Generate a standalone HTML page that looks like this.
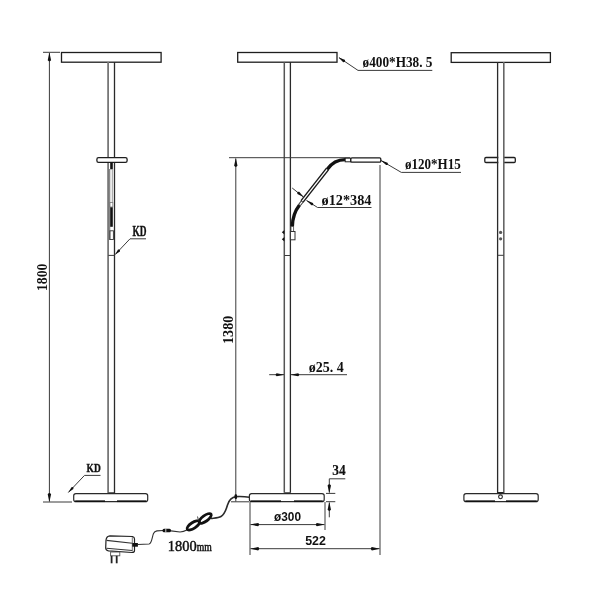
<!DOCTYPE html>
<html><head><meta charset="utf-8"><style>
html,body{margin:0;padding:0;background:#fff;width:600px;height:600px;overflow:hidden}
svg{display:block;will-change:transform}
.t{font-family:"Liberation Serif",serif;font-weight:bold;fill:#111}
.s{font-family:"Liberation Sans",sans-serif;font-weight:bold;fill:#111}
</style></head><body>
<svg width="600" height="600" viewBox="0 0 600 600">
<rect x="61.5" y="52.5" width="99.6" height="9.7" fill="#fff" stroke="#1e1e1e" stroke-width="1.3"/>
<line x1="108.1" y1="62" x2="108.1" y2="493.5" stroke="#777" stroke-width="1.8"/>
<line x1="114.5" y1="62" x2="114.5" y2="493.5" stroke="#2a2a2a" stroke-width="1.3"/>
<rect x="96.9" y="157.7" width="30.2" height="4.7" rx="1.6" fill="#fff" stroke="#1e1e1e" stroke-width="1.3"/>
<rect x="110.2" y="162.3" width="2.6" height="7" fill="#111"/>
<line x1="109.6" y1="169" x2="109.6" y2="240" stroke="#888" stroke-width="1.4"/>
<line x1="112.3" y1="169" x2="112.3" y2="202" stroke="#999" stroke-width="1.0"/>
<rect x="109.8" y="202.5" width="3" height="4.5" fill="none" stroke="#777" stroke-width="0.8"/>
<rect x="110.2" y="207.3" width="2.6" height="19.5" fill="#111"/>
<rect x="109.9" y="230.8" width="3.5" height="8.7" fill="none" stroke="#333" stroke-width="0.9"/>
<line x1="108.3" y1="255.4" x2="114.4" y2="255.4" stroke="#3a3a3a" stroke-width="1.0"/>
<polyline points="115,254.7 130,238.8 146,238.8" fill="none" stroke="#3a3a3a" stroke-width="1.0"/>
<path d="M115.20,254.50 L118.03,249.61 Q120.48,248.90 119.92,251.39 Z" fill="#111"/>
<text class="t" x="132.4" y="235.6" font-size="14.5" textLength="14" lengthAdjust="spacingAndGlyphs" stroke="#111" stroke-width="0.4">KD</text>
<rect x="73.7" y="493.6" width="73.99999999999999" height="8.0" rx="2.2" fill="#fff" stroke="#2a2a2a" stroke-width="1.2"/>
<line x1="75.2" y1="501.20000000000005" x2="105" y2="501.20000000000005" stroke="#111" stroke-width="1.7"/>
<line x1="117" y1="501.20000000000005" x2="146.2" y2="501.20000000000005" stroke="#111" stroke-width="1.7"/>
<line x1="108.5" y1="492.9" x2="114.3" y2="492.9" stroke="#222" stroke-width="1.2"/>
<line x1="43" y1="52.3" x2="60" y2="52.3" stroke="#3a3a3a" stroke-width="1.0"/>
<line x1="43" y1="502" x2="72" y2="502" stroke="#3a3a3a" stroke-width="1.0"/>
<line x1="49.4" y1="53" x2="49.4" y2="501.5" stroke="#3a3a3a" stroke-width="1.0"/>
<path d="M49.40,52.50 L51.10,60.30 Q49.40,62.50 47.70,60.30 Z" fill="#111"/>
<path d="M49.40,502.00 L47.70,494.20 Q49.40,492.00 51.10,494.20 Z" fill="#111"/>
<text class="t" transform="translate(47.3,291) rotate(-90)" font-size="14.5" textLength="27.5" lengthAdjust="spacingAndGlyphs" >1800</text>
<polyline points="68.3,492.5 84.5,475.4 100.5,475.4" fill="none" stroke="#3a3a3a" stroke-width="1.0"/>
<path d="M68.30,492.50 L71.48,487.25 Q73.94,486.55 73.37,489.04 Z" fill="#111"/>
<text class="t" x="86.6" y="472.4" font-size="13.5" textLength="14.2" lengthAdjust="spacingAndGlyphs" stroke="#111" stroke-width="0.4">KD</text>
<rect x="237.7" y="52.5" width="99.3" height="9.7" fill="#fff" stroke="#1e1e1e" stroke-width="1.3"/>
<line x1="284.3" y1="62" x2="284.3" y2="492.8" stroke="#555" stroke-width="1.5"/>
<line x1="290.4" y1="62" x2="290.4" y2="492.8" stroke="#2a2a2a" stroke-width="1.3"/>
<polyline points="339,57.6 358,70.4 432.3,70.4" fill="none" stroke="#3a3a3a" stroke-width="1.0"/>
<path d="M338.60,57.40 L344.78,59.86 Q345.83,62.24 343.22,62.18 Z" fill="#111"/>
<text class="t" x="362.5" y="67" font-size="14" textLength="70" lengthAdjust="spacingAndGlyphs" >ø400*H38. 5</text>
<line x1="229" y1="157.7" x2="350" y2="157.7" stroke="#3a3a3a" stroke-width="1.0"/>
<line x1="235.8" y1="158.5" x2="235.8" y2="501.5" stroke="#3a3a3a" stroke-width="1.0"/>
<path d="M235.80,158.00 L237.50,165.80 Q235.80,168.00 234.10,165.80 Z" fill="#111"/>
<text class="t" transform="translate(232.8,344) rotate(-90)" font-size="14.5" textLength="28.3" lengthAdjust="spacingAndGlyphs" >1380</text>
<path d="M292.3,226.8 Q292.5,214 299.5,205" fill="none" stroke="#111" stroke-width="3.4"/>
<path d="M299.5,205 L302.2,201.5" fill="none" stroke="#333" stroke-width="3"/>
<path d="M299.8,204.6 L302,201.8" fill="none" stroke="#fff" stroke-width="1.2"/>
<path d="M302,201.5 L327.5,169" fill="none" stroke="#1a1a1a" stroke-width="3.9"/>
<path d="M302.3,201.1 L327.2,169.4" fill="none" stroke="#fff" stroke-width="1.3"/>
<path d="M327.3,169.3 Q334,159.6 345.3,159.6" fill="none" stroke="#111" stroke-width="3.4"/>
<rect x="345.2" y="158.2" width="5.5" height="3.6" fill="#fff" stroke="#222" stroke-width="1"/>
<rect x="350.8" y="157.8" width="30" height="4.4" rx="1.2" fill="#fff" stroke="#1a1a1a" stroke-width="1.3"/>
<rect x="291" y="226.5" width="2.6" height="5" fill="#fff" stroke="#555" stroke-width="0.9"/>
<rect x="290.4" y="231.5" width="4.6" height="8.3" fill="#fff" stroke="#333" stroke-width="1"/>
<path d="M281.8,232.3 L284.4,229.9 L284.4,234.5 Z" fill="#111"/>
<path d="M281.8,239.3 L284.4,236.9 L284.4,241.5 Z" fill="#111"/>
<line x1="284.4" y1="255.5" x2="290.4" y2="255.5" stroke="#3a3a3a" stroke-width="1.0"/>
<line x1="292.2" y1="188" x2="303.5" y2="197" stroke="#3a3a3a" stroke-width="1.0"/>
<path d="M303.80,197.30 L297.46,194.01 Q296.62,191.55 299.21,191.83 Z" fill="#111"/>
<polyline points="306.5,200.5 317.6,207.5 371.5,207.5" fill="none" stroke="#3a3a3a" stroke-width="1.0"/>
<path d="M306.30,200.30 L312.96,202.88 Q314.06,205.24 311.45,205.24 Z" fill="#111"/>
<text class="t" x="321.5" y="205" font-size="14" textLength="50" lengthAdjust="spacingAndGlyphs" >ø12*384</text>
<polyline points="381,160.5 401.3,172.4 461,172.4" fill="none" stroke="#3a3a3a" stroke-width="1.0"/>
<path d="M380.80,160.30 L387.54,162.65 Q388.72,164.98 386.12,165.06 Z" fill="#111"/>
<text class="t" x="405" y="169.3" font-size="14" textLength="55.7" lengthAdjust="spacingAndGlyphs" >ø120*H15</text>
<line x1="380" y1="165" x2="380" y2="555" stroke="#3a3a3a" stroke-width="1.0"/>
<line x1="269.2" y1="374.7" x2="284" y2="374.7" stroke="#3a3a3a" stroke-width="1.0"/>
<path d="M284.20,374.70 L276.70,376.20 Q274.50,374.70 276.70,373.20 Z" fill="#111"/>
<line x1="291" y1="374.7" x2="347" y2="374.7" stroke="#3a3a3a" stroke-width="1.0"/>
<path d="M290.60,374.70 L298.10,373.20 Q300.30,374.70 298.10,376.20 Z" fill="#111"/>
<text class="t" x="308.7" y="371.7" font-size="14" textLength="35" lengthAdjust="spacingAndGlyphs" >ø25. 4</text>
<rect x="249.4" y="493.6" width="74.79999999999998" height="8.0" rx="2.2" fill="#fff" stroke="#2a2a2a" stroke-width="1.2"/>
<line x1="250.9" y1="501.20000000000005" x2="281" y2="501.20000000000005" stroke="#111" stroke-width="1.7"/>
<line x1="294" y1="501.20000000000005" x2="322.7" y2="501.20000000000005" stroke="#111" stroke-width="1.7"/>
<line x1="284.5" y1="492.9" x2="290.3" y2="492.9" stroke="#222" stroke-width="1.2"/>
<line x1="231" y1="501.8" x2="249" y2="501.8" stroke="#3a3a3a" stroke-width="1.0"/>
<line x1="326" y1="493.4" x2="335.3" y2="493.4" stroke="#3a3a3a" stroke-width="1.0"/>
<line x1="326" y1="501.7" x2="335.3" y2="501.7" stroke="#3a3a3a" stroke-width="1.0"/>
<polyline points="345.3,478.8 329.3,478.8 329.3,492.5" fill="none" stroke="#3a3a3a" stroke-width="1.0"/>
<path d="M329.30,493.20 L327.60,485.40 Q329.30,483.20 331.00,485.40 Z" fill="#111"/>
<line x1="329.3" y1="502.5" x2="329.3" y2="517.3" stroke="#3a3a3a" stroke-width="1.0"/>
<path d="M329.30,502.00 L331.00,509.80 Q329.30,512.00 327.60,509.80 Z" fill="#111"/>
<text class="t" x="332.3" y="475.2" font-size="14.2" textLength="13.4" lengthAdjust="spacingAndGlyphs" stroke="#111" stroke-width="0.15">34</text>
<line x1="250" y1="502" x2="250" y2="555" stroke="#3a3a3a" stroke-width="1.0"/>
<line x1="325" y1="502" x2="325" y2="530" stroke="#3a3a3a" stroke-width="1.0"/>
<line x1="250.5" y1="524.6" x2="324.5" y2="524.6" stroke="#3a3a3a" stroke-width="1.0"/>
<path d="M250.30,524.60 L258.10,522.90 Q260.30,524.60 258.10,526.30 Z" fill="#111"/>
<path d="M324.70,524.60 L316.90,526.30 Q314.70,524.60 316.90,522.90 Z" fill="#111"/>
<text class="s" x="274" y="521.3" font-size="12.5" textLength="27" lengthAdjust="spacingAndGlyphs" >ø300</text>
<line x1="250.5" y1="548.7" x2="379.5" y2="548.7" stroke="#3a3a3a" stroke-width="1.0"/>
<path d="M250.30,548.70 L258.10,547.00 Q260.30,548.70 258.10,550.40 Z" fill="#111"/>
<path d="M379.70,548.70 L371.90,550.40 Q369.70,548.70 371.90,547.00 Z" fill="#111"/>
<text class="s" x="305.2" y="545.3" font-size="13" textLength="20.7" lengthAdjust="spacingAndGlyphs" >522</text>
<path d="M249.5,497.3 Q243,496.2 236,496.6 C231,497.3 229,500 227.5,505 C226,510 225,514 221,516.5 C218.5,518 215,518 211,518.5" fill="none" stroke="#2a2a2a" stroke-width="1.6"/>
<rect x="234.6" y="494.3" width="2.4" height="4.8" rx="1" fill="#111"/>
<rect x="451.2" y="52.7" width="99.2" height="9.7" fill="#fff" stroke="#1e1e1e" stroke-width="1.3"/>
<rect x="484.8" y="157.5" width="30.5" height="5" rx="1.2" fill="#fff" stroke="#1e1e1e" stroke-width="1.3"/>
<rect x="498.3" y="156" width="4.8" height="8" fill="#fff"/>
<line x1="497.6" y1="62" x2="497.6" y2="493" stroke="#2a2a2a" stroke-width="1.3"/>
<line x1="503.8" y1="62" x2="503.8" y2="493" stroke="#666" stroke-width="1.6"/>
<circle cx="500.6" cy="232.4" r="1.6" fill="#555"/>
<circle cx="500.6" cy="238.8" r="1.6" fill="#555"/>
<line x1="497.6" y1="255.3" x2="503.7" y2="255.3" stroke="#3a3a3a" stroke-width="1.0"/>
<rect x="463.9" y="493.6" width="74.30000000000007" height="8.0" rx="2.2" fill="#fff" stroke="#2a2a2a" stroke-width="1.2"/>
<line x1="465.4" y1="501.20000000000005" x2="495" y2="501.20000000000005" stroke="#111" stroke-width="1.7"/>
<line x1="506" y1="501.20000000000005" x2="536.7" y2="501.20000000000005" stroke="#111" stroke-width="1.7"/>
<line x1="497.8" y1="492.6" x2="503.6" y2="492.6" stroke="#222" stroke-width="1.2"/>
<circle cx="500.5" cy="496.8" r="1.9" fill="none" stroke="#222" stroke-width="1.1"/>
<path d="M106,540 Q106.5,536 110,535.8 L132.5,536.5 Q134.5,537 134.5,539 L134.5,550.5 Q134.5,552.5 132,552.5 L108.5,550.8 Q105.7,550.5 105.7,548 Z" fill="#fff" stroke="#222" stroke-width="1.2"/>
<line x1="106.5" y1="540.4" x2="132.3" y2="543.2" stroke="#333" stroke-width="1.1"/>
<line x1="106.5" y1="548.3" x2="132.3" y2="550.5" stroke="#333" stroke-width="1.1"/>
<line x1="132.3" y1="537" x2="132.3" y2="551.5" stroke="#666" stroke-width="0.9"/>
<rect x="110.6" y="552" width="9.2" height="3.8" fill="#fff" stroke="#555" stroke-width="0.9"/>
<line x1="111.6" y1="555.8" x2="111.6" y2="563.3" stroke="#222" stroke-width="1.8"/>
<line x1="116.7" y1="555.8" x2="116.7" y2="563.3" stroke="#222" stroke-width="1.8"/>
<rect x="132.3" y="543" width="5.6" height="3.7" fill="#111"/>
<path d="M138,544.5 L149,544 C152,543.5 152,537 153.5,533.5 C155,530.5 158,530.5 163,530.5" fill="none" stroke="#333" stroke-width="1.1"/>
<rect x="162.5" y="528.8" width="8.5" height="3.4" rx="1.5" fill="#111"/>
<line x1="165.8" y1="528.8" x2="165.8" y2="532.2" stroke="#fff" stroke-width="0.8"/>
<path d="M171,530.8 L180,532 C183,532 185,531 188,529.5" fill="none" stroke="#333" stroke-width="1.2"/>
<ellipse cx="193.3" cy="525.4" rx="7.2" ry="2.9" transform="rotate(-33 193.3 525.4)" fill="none" stroke="#111" stroke-width="2.8"/>
<ellipse cx="205.2" cy="518.4" rx="7.2" ry="2.9" transform="rotate(-36 205.2 518.4)" fill="none" stroke="#111" stroke-width="2.8"/>
<line x1="198.5" y1="520.5" x2="197.5" y2="516.5" stroke="#333" stroke-width="0.9"/>
<text class="t" x="167.8" y="550.7" font-size="14.4" textLength="28.8" lengthAdjust="spacingAndGlyphs" style="font-weight:normal" stroke="#111" stroke-width="0.45">1800</text>
<text class="t" x="196.8" y="550.7" font-size="11.5" textLength="15" lengthAdjust="spacingAndGlyphs" style="font-weight:normal" stroke="#111" stroke-width="0.5">mm</text>
</svg>
</body></html>
